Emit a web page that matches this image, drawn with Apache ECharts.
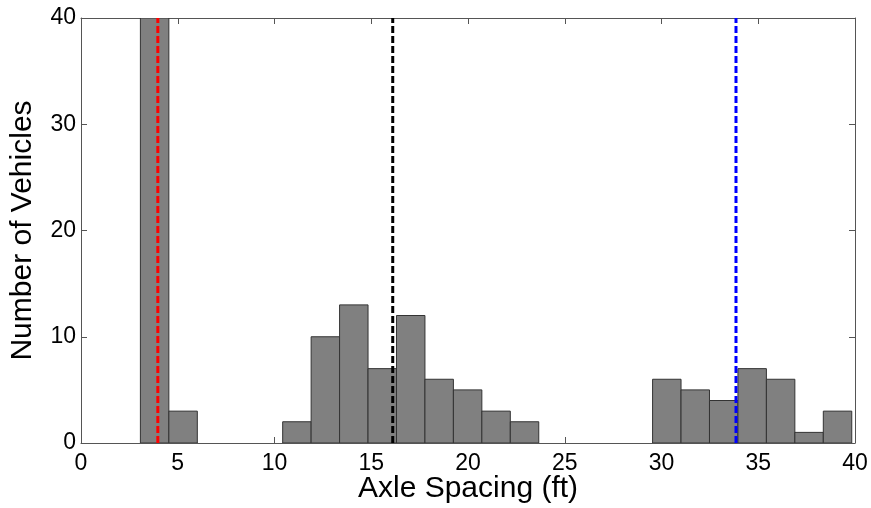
<!DOCTYPE html>
<html><head><meta charset="utf-8">
<script src="https://cdn.jsdelivr.net/npm/echarts@6/dist/echarts.min.js"></script>
<style>html,body{margin:0;padding:0;background:#fff}#c{width:871px;height:508px}</style>
</head><body><div id="c"></div>
<script>
// Histogram bins (ft): first edge and bin width
var binStart = 3.07;
var binWidth = 1.4705;
// Counts per bin (first bin exceeds the axis top and is clipped)
var counts = [40, 3, 0, 0, 0, 2, 10, 13, 7, 12, 6, 5, 3, 2, 0, 0, 0, 0, 6, 5, 4, 7, 6, 1, 3];
// Vertical dashed reference lines
var refX = [3.97, 16.11, 33.85];
var refColors = ['#ff0000', '#000000', '#0000ff'];
var xTicks = [0, 5, 10, 15, 20, 25, 30, 35, 40];
var yTicks = [0, 10, 20, 30, 40];

var font = 'Arial, "Liberation Sans", sans-serif';
var axisColor = '#555';

var barData = counts.map(function (c, i) { return [binStart + i * binWidth, binStart + (i + 1) * binWidth, c]; });

var series = [{
  type: 'custom',
  clip: true,
  data: barData,
  renderItem: function (params, api) {
    var p0 = api.coord([api.value(0), 0]);
    var p1 = api.coord([api.value(1), api.value(2)]);
    if (api.value(2) <= 0) return null;
    return {
      type: 'rect',
      shape: { x: p0[0], y: p1[1], width: p1[0] - p0[0], height: p0[1] - p1[1] },
      style: { fill: '#808080', stroke: '#333333', lineWidth: 1 }
    };
  },
  z: 2
}];
refX.forEach(function (x, i) {
  series.push({
    type: 'line',
    data: [[x, 0], [x, 40]],
    symbol: 'none',
    lineStyle: { color: refColors[i], width: 3, type: [7, 3] },
    z: 3,
    silent: true
  });
});

function axisBase(extra) {
  var a = {
    type: 'value', min: 0, max: 40,
    nameMoveOverlap: false,
    axisLine: { show: true, onZero: false, lineStyle: { color: axisColor, width: 1 } },
    axisTick: { show: true, inside: true, length: 6, lineStyle: { color: axisColor } },
    splitLine: { show: false }
  };
  for (var k in extra) a[k] = extra[k];
  return a;
}

var chart = echarts.init(document.getElementById('c'), null, { renderer: 'canvas' });
chart.setOption({
  animation: false,
  backgroundColor: '#fff',
  grid: { left: 81, right: 16, top: 18, bottom: 65, containLabel: false, outerBoundsMode: 'none' },
  xAxis: [
    axisBase({
      interval: 5, position: 'bottom',
      name: 'Axle Spacing (ft)', nameLocation: 'middle', nameGap: 31,
      nameTextStyle: { fontSize: 30, fontFamily: font, color: '#000' },
      axisLabel: { fontSize: 23, fontFamily: font, color: '#000', margin: 9 }
    }),
    axisBase({ interval: 5, position: 'top', axisLabel: { show: false } })
  ],
  yAxis: [
    axisBase({
      interval: 10, position: 'left',
      name: 'Number of Vehicles', nameLocation: 'middle', nameGap: 43,
      nameTextStyle: { fontSize: 30, fontFamily: font, color: '#000' },
      axisLabel: { fontSize: 23, fontFamily: font, color: '#000', margin: 5 }
    }),
    axisBase({ interval: 10, position: 'right', axisLabel: { show: false } })
  ],
  series: series
});
</script></body></html>
